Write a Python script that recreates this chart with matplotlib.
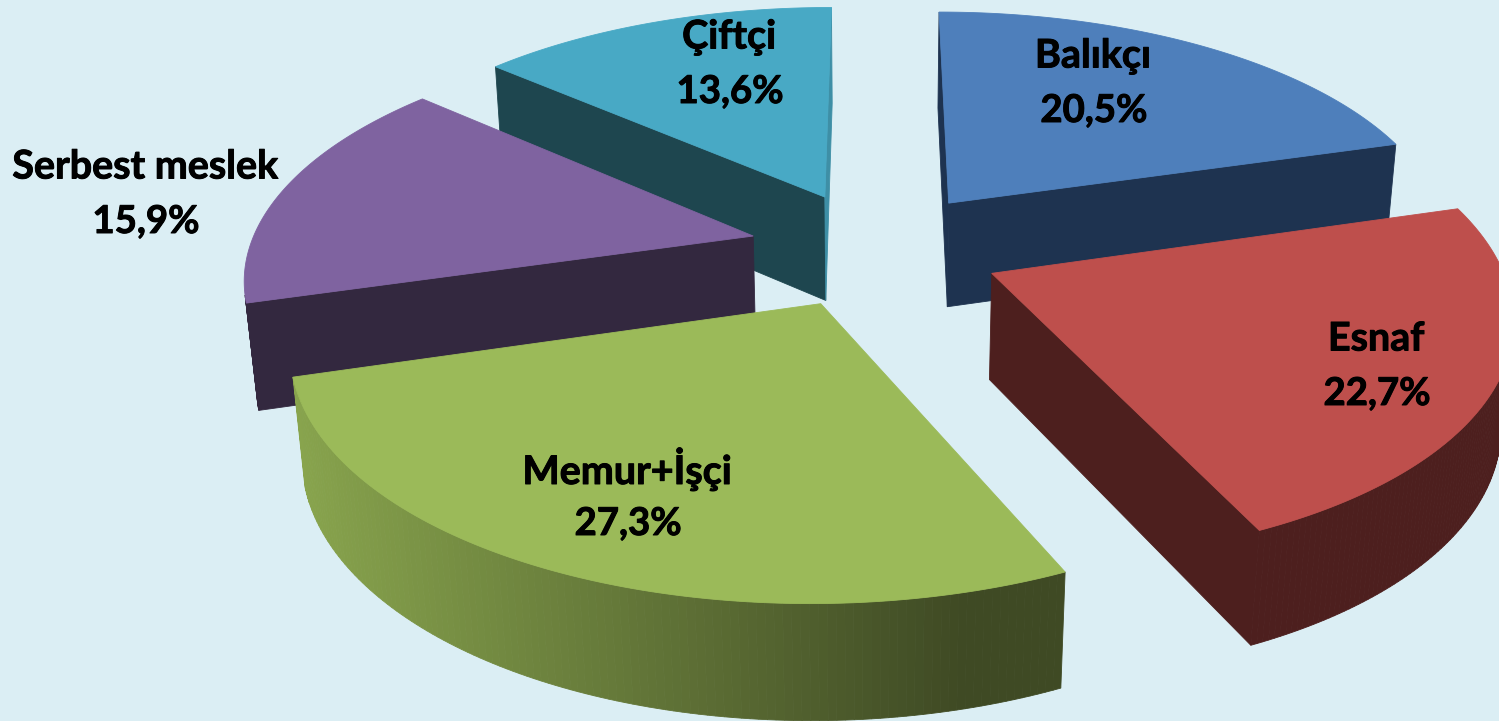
# -*- coding: utf-8 -*-
import numpy as np
import matplotlib
matplotlib.use('Agg')
from matplotlib import pyplot as plt
from matplotlib.patches import Polygon
from matplotlib import patheffects

# data
names = ['Balıkçı', 'Esnaf', 'Memur+İşçi', 'Serbest meslek', 'Çiftçi']
vals = [20.5, 22.7, 27.3, 15.9, 13.6]

# colours: top, side, end cut
top_col = ['#4E7FBB', '#BE4F4C', '#9BBA59', '#7F63A0', '#48A9C5']
side_col = ['#1E3350', '#4D1F1E', '#3F4A24', '#33283F', '#1E464F']
end_col = ['#1E3350', '#4D1F1E', '#3F4A24', '#33283F', '#3E8FA6']
label_pos = [(1093, 56), (1376, 339), (627, 469), (145, 167), (729, 37)]

# camera found by fitting the picture
cx, cy, f, tilt, D = 875.29, 248.52, 2860.81, 0.4829, 5.6788
thick, explode = 0.2303, 0.2502
cam_y, cam_z = -D*np.cos(tilt), D*np.sin(tilt)


def proj(X, Y, Z):
    yc = Y*np.sin(tilt) + Z*np.cos(tilt)
    zc = D + Y*np.cos(tilt) - Z*np.sin(tilt)
    return np.column_stack([cx + f*X/zc, cy - f*yc/zc])


def wall(px, py):
    # quad from two top points down to the bottom, depth a bit larger at the back
    px = np.array([px[0], px[1], px[1], px[0]])
    py = np.array([py[0], py[1], py[1], py[0]])
    pz = -thick*(1.045 + 0.03*py)*np.array([0, 0, 1, 1])
    return proj(px, py, pz)


def face(ax, pts, col, z):
    ax.add_patch(Polygon(pts, closed=True, fc=col, ec=col, lw=0.6, zorder=z))


fig = plt.figure(figsize=(14.99, 7.21), dpi=100, facecolor='#DBEEF4')
ax = fig.add_axes([0, 0, 1, 1])
ax.set_xlim(0, 1499)
ax.set_ylim(721, 0)
ax.axis('off')

edges = np.concatenate([[0], np.cumsum(vals)])/np.sum(vals)*2*np.pi
# back slices first
order = [4, 3, 0, 1, 2]

for n, i in enumerate(order):
    a0, a1 = edges[i], edges[i+1]
    mid = (a0 + a1)/2
    ox, oy = explode*np.sin(mid), explode*np.cos(mid)
    ang = np.linspace(a0, a1, 121)
    X = ox + np.sin(ang)
    Y = oy + np.cos(ang)
    z0 = n*10

    # cut faces, only when they look at the camera
    for a, sign, col in ((a0, -1, side_col[i]), (a1, 1, end_col[i])):
        nx, ny = sign*np.cos(a), -sign*np.sin(a)
        if nx*(0 - ox) + ny*(cam_y - oy) > 0:
            pts = wall([ox, ox + np.sin(a)], [oy, oy + np.cos(a)])
            face(ax, pts, col, z0)

    # outer wall, strip by strip
    for k in range(len(ang) - 1):
        am = (ang[k] + ang[k+1])/2
        if np.sin(am)*(0 - X[k]) + np.cos(am)*(cam_y - Y[k]) <= 0:
            continue
        pts = wall(X[k:k+2], Y[k:k+2])
        col = side_col[i]
        if i == 2:
            # memur wall gets darker to the right
            s = np.clip((pts[:, 0].mean() - 300)/660, 0, 1)
            col = tuple((np.array([136, 164, 77])*(1 - s) + np.array([63, 74, 36])*s)/255)
        face(ax, pts, col, z0 + 1)

    # top
    px = np.concatenate([[ox], X])
    py = np.concatenate([[oy], Y])
    face(ax, proj(px, py, np.zeros(len(px))), top_col[i], z0 + 2)

stroke = [patheffects.withStroke(linewidth=0.7, foreground='black')]
for name, v, (x, y) in zip(names, vals, label_pos):
    ax.text(x, y, name, ha='center', va='center', fontsize=28.4, fontweight='bold',
            family='Lato', color='black', zorder=100, path_effects=stroke)
    ax.text(x + 1, y + 55, ('%.1f%%' % v).replace('.', ','), ha='center', va='center',
            fontsize=27.6, fontweight='bold', family='Lato', color='black', zorder=100,
            path_effects=stroke)

fig.savefig('out.png', dpi=100, facecolor=fig.get_facecolor())
